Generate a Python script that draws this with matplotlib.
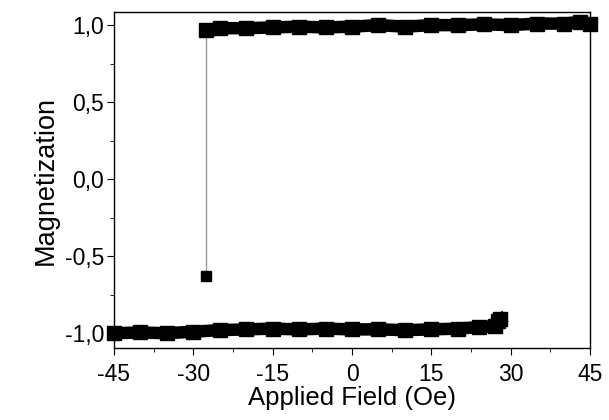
import matplotlib
matplotlib.use("Agg")
import matplotlib.pyplot as plt
from matplotlib.ticker import FuncFormatter, MultipleLocator

plt.rcParams['font.family'] = ['Liberation Sans', 'DejaVu Sans']

# upper branch (descending field returns here after switching)
up_x = [-27.5, -25, -20, -15, -10, -5, 0, 5, 10, 15, 20, 25, 30, 35, 40, 43, 45]
up_y = [0.97, 0.98, 0.98, 0.985, 0.99, 0.985, 0.99, 1.0, 0.99, 1.0, 1.0, 1.005, 1.0, 1.01, 1.01, 1.02, 1.01]

# lower branch
lo_x = [-45, -40, -35, -30, -25, -20, -15, -10, -5, 0, 5, 10, 15, 20, 24, 27, 27.5, 28]
lo_y = [-1.0, -0.995, -1.0, -0.99, -0.98, -0.975, -0.97, -0.975, -0.97, -0.975, -0.975, -0.98,
        -0.975, -0.97, -0.96, -0.955, -0.92, -0.91]

# switching point
sw_x = [-27.5, -27.5]
sw_y = [-0.63, 0.97]

fig = plt.figure(figsize=(6.09, 4.2), dpi=100)
ax = fig.add_axes([0.187, 0.171, 0.782, 0.8])

ax.plot(sw_x, sw_y, color='#999999', lw=1)
ax.plot(sw_x[0], sw_y[0], 's', color='black', ms=7)
ax.plot(up_x, up_y, '-s', color='black', lw=9, ms=10, solid_joinstyle='round', clip_on=False)
ax.plot(lo_x, lo_y, '-s', color='black', lw=9, ms=10, solid_joinstyle='round', clip_on=False)

ax.set_xlim(-45, 45)
ax.set_ylim(-1.097, 1.084)
ax.xaxis.set_major_locator(MultipleLocator(15))
ax.xaxis.set_minor_locator(MultipleLocator(7.5))
ax.yaxis.set_major_locator(MultipleLocator(0.5))
ax.yaxis.set_minor_locator(MultipleLocator(0.25))
ax.yaxis.set_major_formatter(FuncFormatter(lambda v, p: f"{v:.1f}".replace('.', ',').replace('-0,0', '0,0')))
ax.xaxis.set_major_formatter(FuncFormatter(lambda v, p: f"{v:.0f}"))

ax.tick_params(which='both', direction='out', top=False, right=False, labelsize=16.5)
ax.tick_params(axis='x', pad=6)
ax.tick_params(axis='y', pad=2)
ax.tick_params(which='major', length=5)
ax.tick_params(which='minor', length=3)
for s in ax.spines.values():
    s.set_linewidth(1)

ax.set_xlabel('Applied Field (Oe)', fontsize=18.5, labelpad=0)
ax.set_ylabel('Magnetization', fontsize=19.5, labelpad=4)

fig.savefig('out.png', dpi=100)
